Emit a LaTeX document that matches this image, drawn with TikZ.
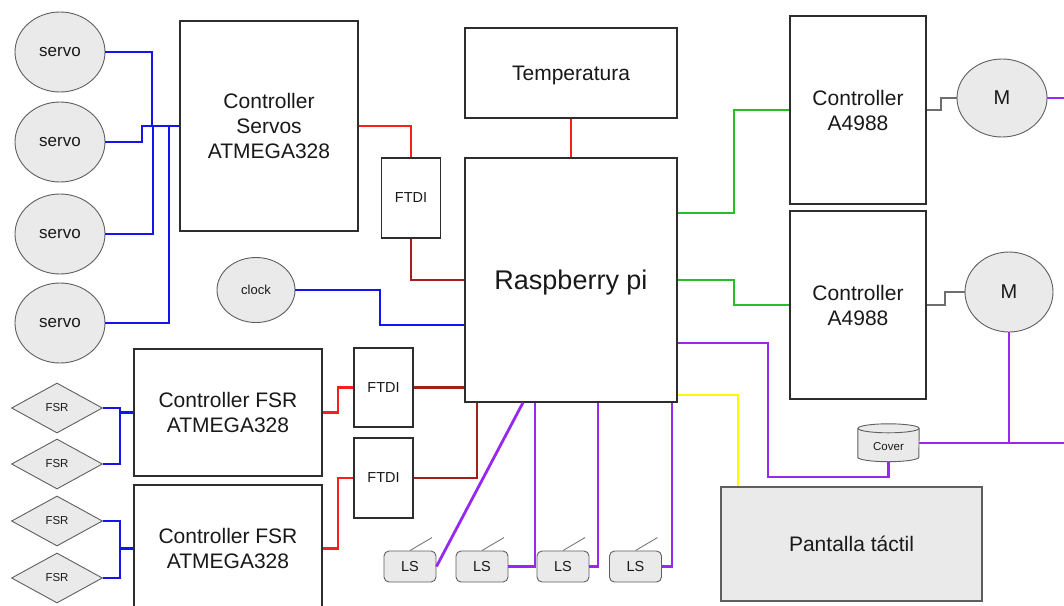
\documentclass[tikz,border=0pt]{standalone}
\usepackage{fontspec}
\setmainfont{Liberation Sans}
\usetikzlibrary{shapes.geometric}
\definecolor{wblue}{RGB}{20,20,235}
\definecolor{wred}{RGB}{250,30,30}
\definecolor{wdred}{RGB}{165,30,30}
\definecolor{wgreen}{RGB}{40,190,40}
\definecolor{wpurple}{RGB}{150,40,240}
\definecolor{wyellow}{RGB}{255,250,0}
\definecolor{wgray}{RGB}{110,110,110}
\definecolor{boxc}{RGB}{45,45,45}
\definecolor{ellc}{RGB}{95,95,95}
\definecolor{fillc}{RGB}{234,234,234}
\definecolor{txt}{RGB}{25,25,25}
\tikzset{
  box/.style={draw=boxc, line width=1.1pt, fill=white, align=center, inner sep=0pt, text=txt},
  ell/.style={ellipse, draw=ellc, fill=fillc, line width=0.9pt, inner sep=0pt, text=txt},
  dia/.style={diamond, draw=ellc, fill=fillc, line width=0.9pt, inner sep=0pt, text=txt,
    minimum width=91pt, minimum height=50pt, font=\fontsize{11.5}{13}\selectfont},
  lsbox/.style={draw=ellc, fill=fillc, line width=0.9pt, rounded corners=5pt, inner sep=0pt,
    minimum width=52pt, minimum height=31pt, text=txt, font=\fontsize{14.5}{16}\selectfont},
  big/.style={font=\fontsize{21}{25}\selectfont},
  wire/.style={line width=2.8pt},
  lever/.style={draw=wgray, line width=0.8pt},
}
\begin{document}
\begin{tikzpicture}[x=1pt,y=-1pt]
\useasboundingbox[fill=white] (0,0) rectangle (1064,605);

% servos
\foreach \n/\y in {1/52,2/142,3/234,4/323}
  \node[ell, minimum width=90pt, minimum height=80pt, font=\fontsize{17}{19}\selectfont] (s\n) at (60,\y) {servo};
\node[box, big, minimum width=178pt, minimum height=210pt] (csv) at (269,126) {Controller\\Servos\\ATMEGA328};
\node[ell, minimum width=78pt, minimum height=65pt, font=\fontsize{13}{15}\selectfont] (clock) at (256,290) {clock};

% centre
\node[box, big, minimum width=212pt, minimum height=90pt, text depth=0pt] (temp) at (571,73) {Temperatura};
\node[box, font=\fontsize{27}{30}\selectfont, minimum width=212pt, minimum height=244pt, text depth=0pt] (rpi) at (571,280) {Raspberry pi};
\node[box, font=\fontsize{14.5}{16}\selectfont, minimum width=59pt, minimum height=80pt] (ftdi1) at (411,198) {FTDI};
\node[box, font=\fontsize{14.5}{16}\selectfont, minimum width=59pt, minimum height=79pt] (ftdi2) at (383.5,387.5) {FTDI};
\node[box, font=\fontsize{14.5}{16}\selectfont, minimum width=59pt, minimum height=80pt] (ftdi3) at (383.5,478) {FTDI};

% right
\node[box, big, minimum width=136pt, minimum height=188pt] (a1) at (858,110) {Controller\\A4988};
\node[box, big, minimum width=136pt, minimum height=188pt] (a2) at (858,305) {Controller\\A4988};
\node[ell, minimum width=90pt, minimum height=78pt, font=\fontsize{20}{22}\selectfont] (m1) at (1002,98) {M};
\node[ell, minimum width=88pt, minimum height=80pt, font=\fontsize{20}{22}\selectfont] (m2) at (1009,292) {M};
\node[box, big, fill=fillc, draw=ellc, minimum width=261pt, minimum height=114pt] (pant) at (851.5,544) {Pantalla táctil};

% cover: plain node, cylinder drawn round it after the wires
\node[inner sep=0pt, minimum width=61pt, minimum height=28.5pt] (cover) at (888.5,442.75) {};

% FSR
\node[box, big, minimum width=188pt, minimum height=127pt] (f1) at (228,412.5) {Controller FSR\\ATMEGA328};
\node[box, big, minimum width=188pt, minimum height=127pt] (f2) at (228,548.5) {Controller FSR\\ATMEGA328};
\foreach \n/\y in {1/408,2/464,3/521,4/578}
  \node[dia] (d\n) at (57,\y) {FSR};

% LS
\foreach \n/\x in {1/410,2/482,3/563,4/635.5}{
  \node[lsbox] (ls\n) at (\x,566.5) {LS};
  \draw[lever] (ls\n.north) -- ++(22,-13);
}

% ---- connectors
% blue servo bus
\draw[wire, wblue] (s1.east) -| (152,126);
\draw[wire, wblue] (s2.east) -| (142,126) -- (csv.west);
\draw[wire, wblue] (s3.east) -| (153,126);
\draw[wire, wblue] (s4.east) -| (169,126);
\draw[wire, wblue] (clock.east) -| (380,325) -- (rpi.west |- 0,325);
% red
\draw[wire, wred] (csv.east) -| (ftdi1.north);
\draw[wire, wred] (temp.south) -- (rpi.north);
\draw[wire, wdred] (ftdi1.south) |- (rpi.west);
\draw[wire, wred] (f1.east) -| (ftdi2.west -| 338,0) -- (ftdi2.west);
\draw[wire, wred] (f2.east) -| (ftdi3.west -| 338,0) -- (ftdi3.west);
\draw[wire, wdred] (ftdi2.east) -- (rpi.west |- ftdi2.east);
\draw[wire, wdred] (ftdi3.east) -| (rpi.south -| 477,0);
% FSR blue
\draw[wire, wblue] (d1.east) -| (d2.east -| 120,0) -- (d2.east);
\draw[wire, wblue] (f1.west) -- (f1.west -| 120,0);
\draw[wire, wblue] (d3.east) -| (d4.east -| 120,0) -- (d4.east);
\draw[wire, wblue] (f2.west) -- (f2.west -| 120,0);
% green
\draw[wire, wgreen] (rpi.east |- 0,213) -| (734,110) -- (a1.west);
\draw[wire, wgreen] (rpi.east) -| (734,305) -- (a2.west);
% gray motors
\draw[line width=2pt, wgray] (a1.east) -| (941,98) -- (m1.west);
\draw[line width=2pt, wgray] (a2.east) -| (945,292) -- (m2.west);
% purple
\coordinate (e1) at (1066,98);
\coordinate (e2) at (1066,443);
\draw[wire, wpurple] (m1.east) -- (e1);
\draw[wire, wpurple] (m2.south) -- (m2.south |- e2);
\draw[wire, wpurple] (cover.east |- e2) -- (e2);
\draw[wire, wpurple] (rpi.east |- 0,343) -| (768,477) -| (cover.south);
\draw[wire, wpurple] (ls1.east) -- (rpi.south -| 523,0);
\draw[wire, wpurple] (ls2.east) -| (rpi.south -| 535,0);
\draw[wire, wpurple] (ls3.east) -| (rpi.south -| 598,0);
\draw[wire, wpurple] (ls4.east) -| (rpi.south -| 672,0);
% yellow
\draw[wire, wyellow] (rpi.east |- 0,395) -| (pant.north -| 738,0);

% cylinder "Cover"
\fill[fillc] (cover.north west) -- (cover.south west) arc[start angle=180, end angle=360, x radius=30.5pt, y radius=4.5pt] -- (cover.north east) arc[start angle=0, end angle=180, x radius=30.5pt, y radius=4.5pt] -- cycle;
\draw[ellc, line width=0.9pt] (cover.north west) -- (cover.south west) arc[start angle=180, end angle=360, x radius=30.5pt, y radius=4.5pt] -- (cover.north east);
\draw[ellc, line width=0.9pt] (cover.north) ellipse[x radius=30.5pt, y radius=4.5pt];
\node[text=txt, font=\fontsize{11.5}{13}\selectfont] (covertxt) at ([yshift=-4pt]cover.center) {Cover};
\end{tikzpicture}
\end{document}
